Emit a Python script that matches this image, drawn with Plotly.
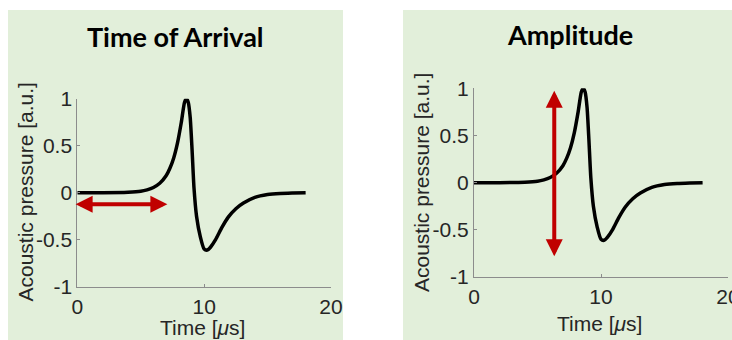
import plotly.graph_objects as go

# ---- data ----
time_us = [0, 2, 4, 5, 5.5, 6, 6.5, 7, 7.3, 7.6, 7.9, 8.2, 8.45, 8.6, 8.75, 8.9,
           9.05, 9.2, 9.4, 9.7, 10.0, 10.25, 10.5, 10.9, 11.4, 11.9, 12.5, 13.1,
           14, 15, 16, 17, 18]
pressure = [0, 0, 0.005, 0.015, 0.03, 0.055, 0.1, 0.18, 0.26, 0.37, 0.53, 0.75,
            0.96, 1.0, 0.96, 0.8, 0.45, 0.05, -0.25, -0.47, -0.6, -0.61, -0.58,
            -0.5, -0.37, -0.26, -0.17, -0.11, -0.05, -0.02, -0.008, -0.003, 0]

panel_titles = ["Time of Arrival", "Amplitude"]
x_ticks = [0, 10, 20]
y_ticks = [-1, -0.5, 0, 0.5, 1]
y_tick_text = ["-1", "-0.5", "0", "0.5", "1"]

# arrow endpoints (data units)
toa_arrow_x = [-0.25, 7.1]
toa_arrow_y = [-0.123, -0.123]
amp_arrow_x = [6.32, 6.32]
amp_arrow_y = [0.99, -0.78]

W, H = 732, 340
green = "#E2EFDA"
red = "#C00000"
tick_font = dict(family="Liberation Sans, Arial", size=21, color="#262626")
axis_col = "#8c8c8c"

fig = go.Figure()

for i in range(2):
    xa = "x" if i == 0 else "x2"
    ya = "y" if i == 0 else "y2"
    fig.add_trace(go.Scatter(x=time_us, y=pressure, mode="lines",
                             line=dict(color="black", width=3.5, shape="spline", smoothing=0.6),
                             xaxis=xa, yaxis=ya, showlegend=False, hoverinfo="skip"))

def px_x(p):
    return p / W

def px_y(p):
    return (H - p) / H

common_x = dict(range=[0, 20], tickvals=x_ticks, ticks="inside", ticklen=3, tickcolor=axis_col,
                showline=True, linecolor=axis_col, linewidth=1, showgrid=False, zeroline=False,
                tickfont=tick_font, automargin=False, fixedrange=True,
                ticklabeloverflow="allow", ticklabelstandoff=1)
common_y = dict(range=[-1, 1], tickvals=y_ticks, ticktext=y_tick_text, ticks="inside", ticklen=3,
                tickcolor=axis_col, showline=True, linecolor=axis_col, linewidth=1, showgrid=False,
                zeroline=False, tickfont=tick_font, automargin=False, fixedrange=True,
                ticklabeloverflow="allow")

fig.update_layout(
    width=W, height=H,
    margin=dict(l=0, r=0, t=0, b=0),
    paper_bgcolor="white",
    plot_bgcolor="rgba(0,0,0,0)",
    template="none",
    xaxis=dict(domain=[px_x(77.3), px_x(331)], anchor="y", **common_x),
    yaxis=dict(domain=[px_y(286.7), px_y(98.7)], anchor="x", **common_y),
    xaxis2=dict(domain=[px_x(474), px_x(728)], anchor="y2", **common_x),
    yaxis2=dict(domain=[px_y(277.1), px_y(88.3)], anchor="x2", **common_y),
)

# green panel backgrounds
fig.add_shape(type="rect", xref="paper", yref="paper", x0=px_x(8), x1=px_x(343),
              y0=px_y(340), y1=px_y(10), fillcolor=green, line=dict(width=0), layer="below")
fig.add_shape(type="rect", xref="paper", yref="paper", x0=px_x(403), x1=px_x(732),
              y0=px_y(340), y1=px_y(10), fillcolor=green, line=dict(width=0), layer="below")

title_font = dict(family="Lato", size=27, color="black")
fig.add_annotation(text="<b>" + panel_titles[0] + "</b>", xref="paper", yref="paper",
                   x=px_x(175), y=px_y(37), xanchor="center", yanchor="middle",
                   showarrow=False, font=title_font)
fig.add_annotation(text="<b>" + panel_titles[1] + "</b>", xref="paper", yref="paper",
                   x=px_x(570), y=px_y(35), xanchor="center", yanchor="middle",
                   showarrow=False, font=title_font)

lab_font = dict(family="Liberation Sans, Arial", size=21, color="#262626")
for (xc, yc) in [(25, 192.5), (421, 183)]:
    fig.add_annotation(text="Acoustic pressure [a.u.]", xref="paper", yref="paper",
                       x=px_x(xc), y=px_y(yc), xanchor="center", yanchor="middle",
                       textangle=-90, showarrow=False, font=lab_font)
for (xc, yc) in [(203, 327), (599, 323)]:
    fig.add_annotation(text="Time [<i>μ</i>s]", xref="paper", yref="paper",
                       x=px_x(xc), y=px_y(yc), xanchor="center", yanchor="middle",
                       showarrow=False, font=lab_font)

# arrows
arrow_style = dict(text="", showarrow=True, arrowhead=2, startarrowhead=2, arrowside="end+start",
                   arrowwidth=4, arrowsize=0.85, startarrowsize=0.85, arrowcolor=red,
                   standoff=0, startstandoff=0)
fig.add_annotation(xref="x", yref="y", axref="x", ayref="y",
                   x=toa_arrow_x[1], y=toa_arrow_y[1], ax=toa_arrow_x[0], ay=toa_arrow_y[0],
                   **arrow_style)
fig.add_annotation(xref="x2", yref="y2", axref="x2", ayref="y2",
                   x=amp_arrow_x[1], y=amp_arrow_y[1], ax=amp_arrow_x[0], ay=amp_arrow_y[0],
                   **arrow_style)

fig.write_html("out.html")
